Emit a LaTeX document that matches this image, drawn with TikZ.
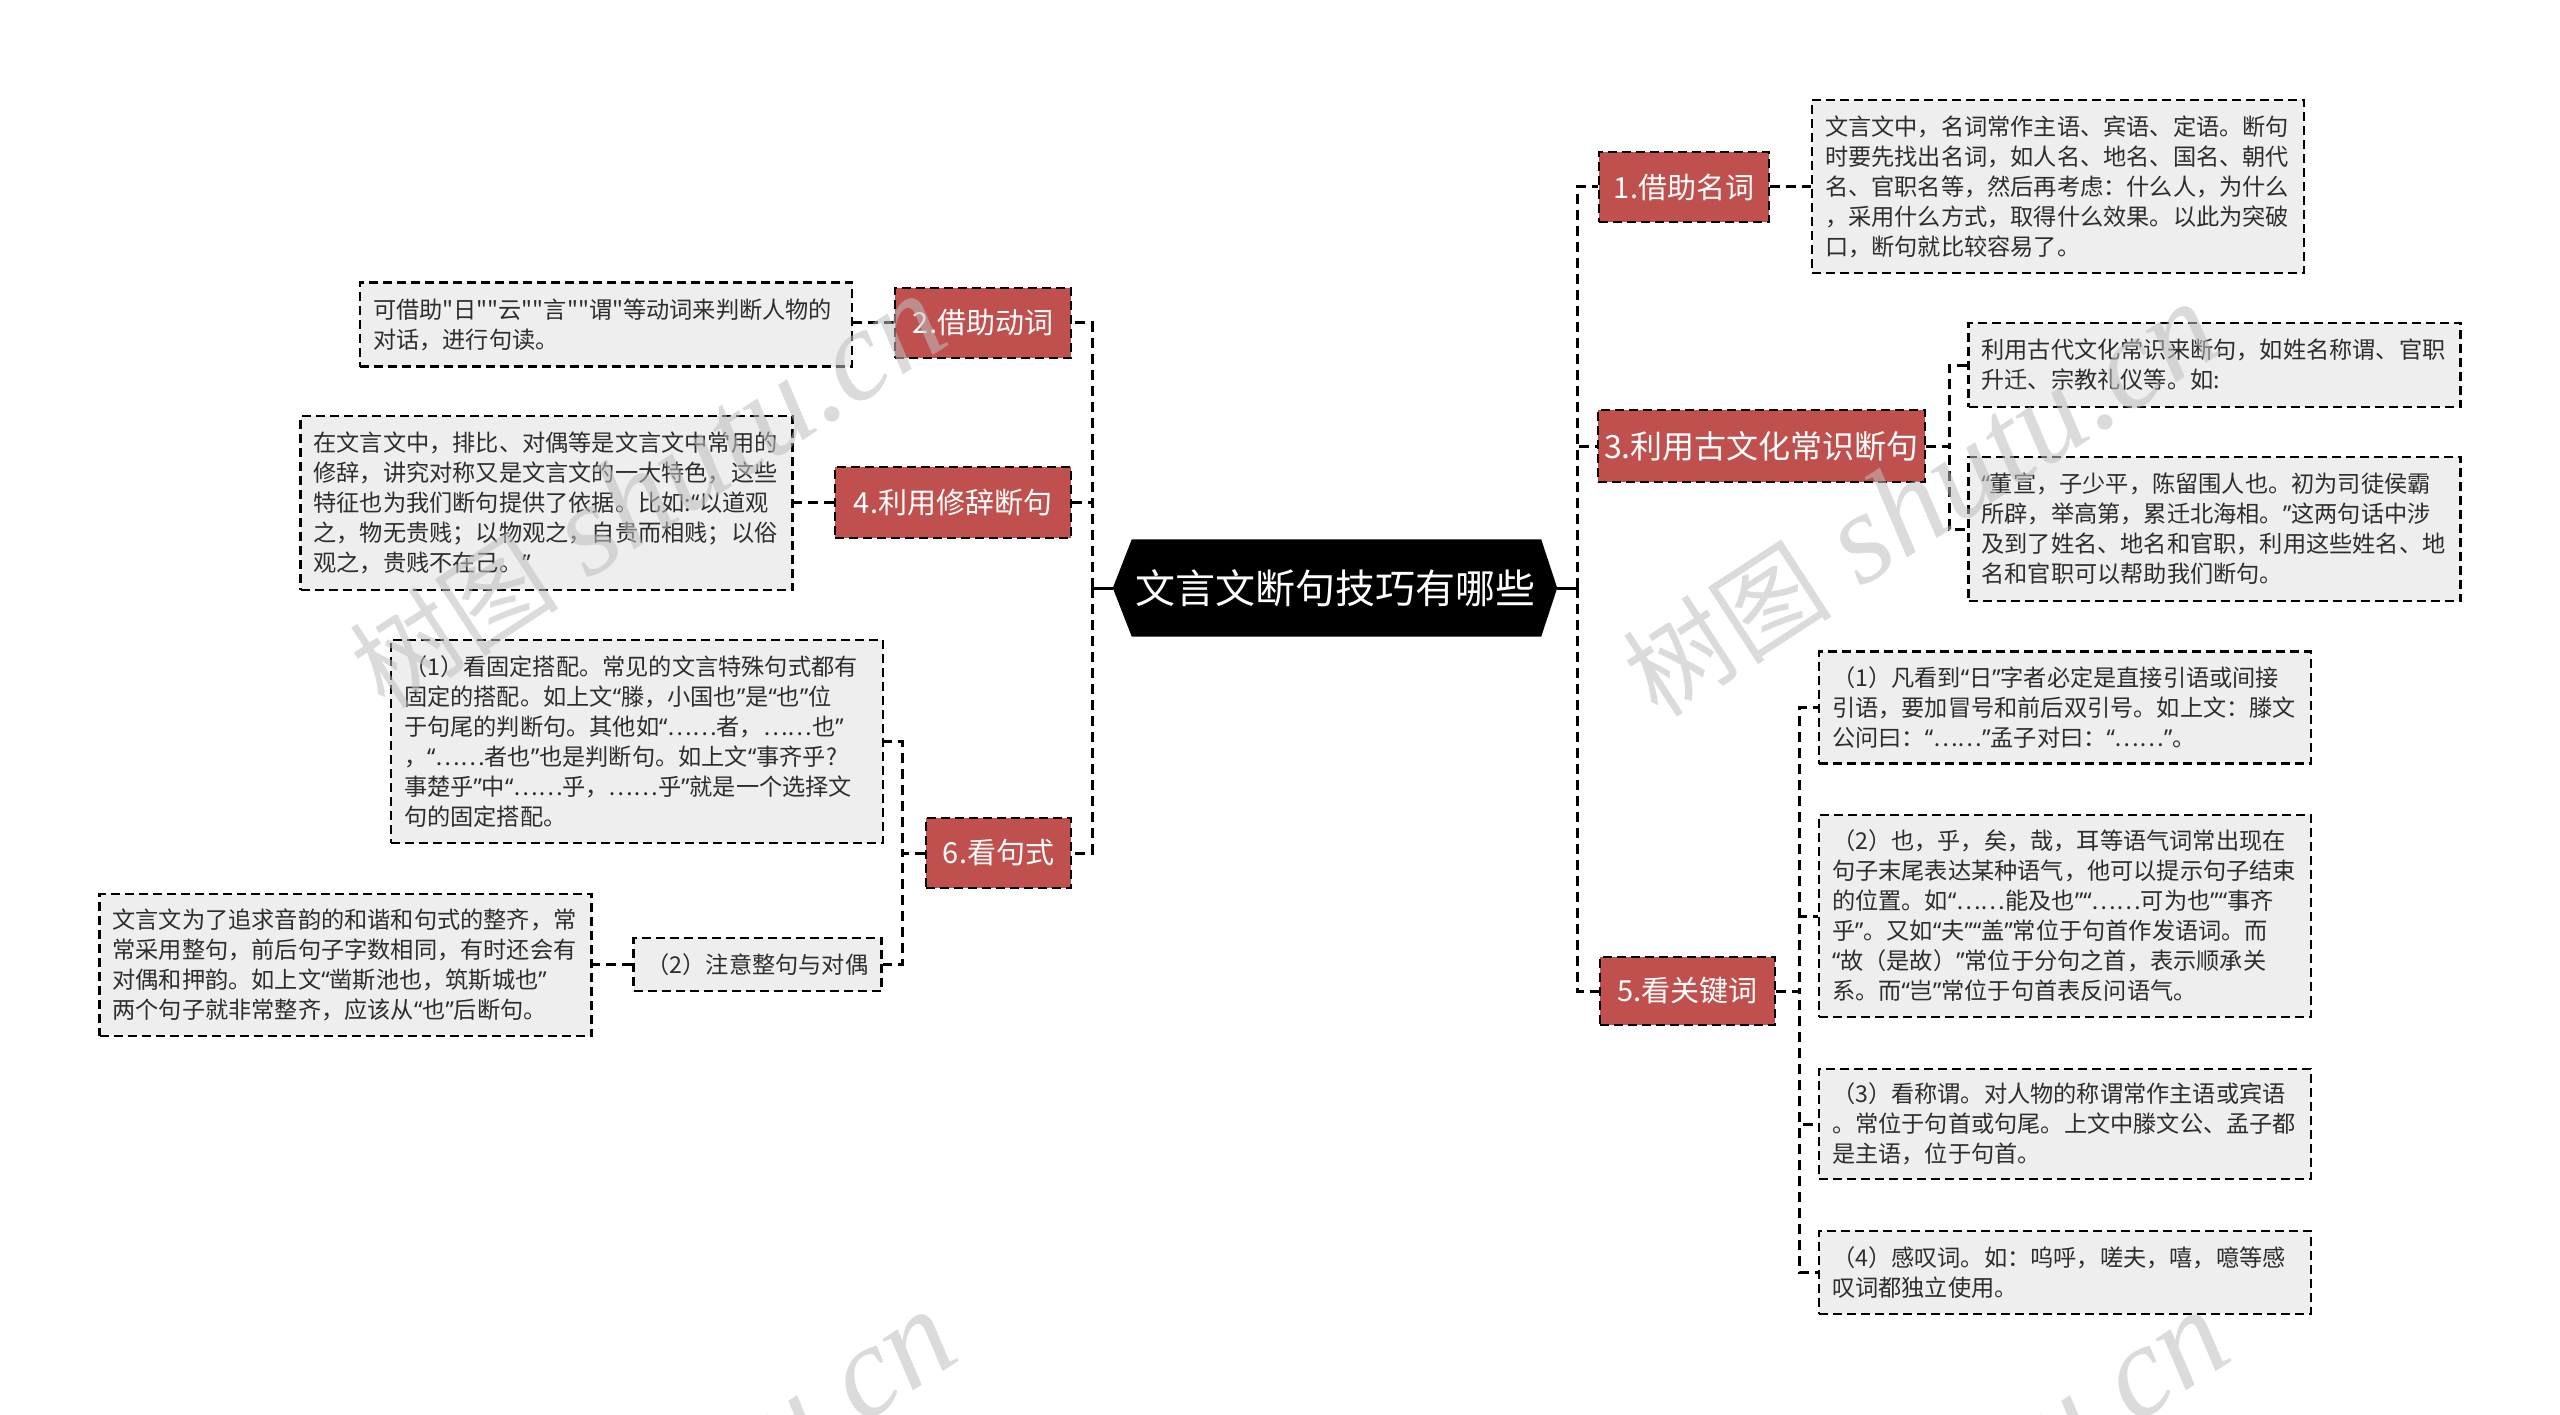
\documentclass[tikz,border=0pt]{standalone}
\usepackage{fontspec}
\newfontfamily\cjk{Noto Sans CJK SC}
\newfontfamily\qfont{Noto Sans}
\newfontfamily\wmserif{Liberation Serif}
\newcommand\myoq{{\qfont “}}
\newcommand\mycq{{\qfont ”}}
\definecolor{redbox}{RGB}{192,80,77}
\definecolor{graybox}{RGB}{238,238,238}
\definecolor{txtgray}{RGB}{45,45,45}
\definecolor{wmgray}{RGB}{190,190,190}
\pgfdeclarelayer{bg}
\pgfsetlayers{bg,main}
\begin{document}
\begin{tikzpicture}[x=1pt,y=-1pt,
  conn/.style={line width=3pt, dash pattern=on 10pt off 6pt, black},
  trunkstub/.style={line width=3pt, black},
  topic/.style={draw=black, fill=redbox, text=white, line width=2.2pt,
    dash pattern=on 9pt off 5pt, inner sep=0pt,
    font=\cjk\fontsize{29}{34}\selectfont},
  detail/.style={draw=black, fill=graybox, text=txtgray, line width=2.2pt,
    dash pattern=on 9pt off 5pt, inner xsep=13pt, inner ysep=0pt,
    align=left, text width=466pt,
    font=\cjk\fontsize{23.2}{30}\selectfont},
  wm/.style={text=wmgray, opacity=0.55, inner sep=0pt, anchor=base west, rotate=33,
    font=\fontsize{105}{110}\selectfont}
]
\useasboundingbox (0,0) rectangle (2560,1415);

% central topic
\node[text=white, inner sep=0pt, minimum width=444pt, minimum height=97pt,
  font=\cjk\fontsize{40}{48}\selectfont] (root) at (1335,588) {文言文断句技巧有哪些};
\begin{pgfonlayer}{bg}
\fill[white] (0,0) rectangle (2560,1415);
\fill[black] (root.west) -- ([xshift=19pt]root.north west) -- ([xshift=-16pt]root.north east)
  -- (root.east) -- ([xshift=-16pt]root.south east) -- ([xshift=19pt]root.south west) -- cycle;
\end{pgfonlayer}

% right topics
\node[topic, minimum width=170pt, minimum height=70pt] (n1) at (1684,187) {1.借助名词};
\node[topic, minimum width=327pt, minimum height=72pt, font=\cjk\fontsize{32}{37}\selectfont] (n3) at (1761.5,446) {3.利用古文化常识断句};
\node[topic, minimum width=175pt, minimum height=68pt] (n5) at (1687.5,991) {5.看关键词};

% left topics
\node[topic, minimum width=176pt, minimum height=70pt] (n2) at (983,323) {2.借助动词};
\node[topic, minimum width=236pt, minimum height=71pt] (n4) at (953,502.5) {4.利用修辞断句};
\node[topic, minimum width=145pt, minimum height=70pt] (n6) at (998.5,853) {6.看句式};

% right details
\node[detail, minimum height=173pt] (b1) at (2058,186.5) {文言文中，名词常作主语、宾语、定语。断句\\时要先找出名词，如人名、地名、国名、朝代\\名、官职名等，然后再考虑：什么人，为什么\\，采用什么方式，取得什么效果。以此为突破\\口，断句就比较容易了。};
\node[detail, minimum height=84pt] (b3a) at (2214.5,365) {利用古代文化常识来断句，如姓名称谓、官职\\升迁、宗教礼仪等。如:};
\node[detail, minimum height=144pt] (b3b) at (2214.5,529) {\myoq{}董宣，子少平，陈留围人也。初为司徒侯霸\\所辟，举高第，累迁北海相。\mycq{}这两句话中涉\\及到了姓名、地名和官职，利用这些姓名、地\\名和官职可以帮助我们断句。};
\node[detail, minimum height=112pt] (b51) at (2065,707.5) {（1）凡看到\myoq{}日\mycq{}字者必定是直接引语或间接\\引语，要加冒号和前后双引号。如上文：滕文\\公问曰：\myoq{}……\mycq{}孟子对曰：\myoq{}……\mycq{}。};
\node[detail, minimum height=202pt] (b52) at (2065,916) {（2）也，乎，矣，哉，耳等语气词常出现在\\句子末尾表达某种语气，他可以提示句子结束\\的位置。如\myoq{}……能及也\mycq{}\myoq{}……可为也\mycq{}\myoq{}事齐\\乎\mycq{}。又如\myoq{}夫\mycq{}\myoq{}盖\mycq{}常位于句首作发语词。而\\\myoq{}故（是故）\mycq{}常位于分句之首，表示顺承关\\系。而\myoq{}岂\mycq{}常位于句首表反问语气。};
\node[detail, minimum height=110pt] (b53) at (2065,1124) {（3）看称谓。对人物的称谓常作主语或宾语\\。常位于句首或句尾。上文中滕文公、孟子都\\是主语，位于句首。};
\node[detail, minimum height=83pt] (b54) at (2065,1272.5) {（4）感叹词。如：呜呼，嗟夫，嘻，噫等感\\叹词都独立使用。};

% left details
\node[detail, minimum height=84pt] (b2) at (606,324.5) {可借助"日""云""言""谓"等动词来判断人物的\\对话，进行句读。};
\node[detail, minimum height=174pt] (b4) at (546.5,503) {在文言文中，排比、对偶等是文言文中常用的\\修辞，讲究对称又是文言文的一大特色，这些\\特征也为我们断句提供了依据。比如:\myoq{}以道观\\之，物无贵贱；以物观之，自贵而相贱；以俗\\观之，贵贱不在己。\mycq{}};
\node[detail, minimum height=203pt] (b61) at (637,741.5) {（1）看固定搭配。常见的文言特殊句式都有\\固定的搭配。如上文\myoq{}滕，小国也\mycq{}是\myoq{}也\mycq{}位\\于句尾的判断句。其他如\myoq{}……者，……也\mycq{}\\，\myoq{}……者也\mycq{}也是判断句。如上文\myoq{}事齐乎?\\事楚乎\mycq{}中\myoq{}……乎，……乎\mycq{}就是一个选择文\\句的固定搭配。};
\node[detail, text width=, inner xsep=0pt, minimum width=248pt, minimum height=53pt] (b62) at (757.5,964.5) {（2）注意整句与对偶};
\node[detail, minimum height=142pt] (b62d) at (345.5,965) {文言文为了追求音韵的和谐和句式的整齐，常\\常采用整句，前后句子字数相同，有时还会有\\对偶和押韵。如上文\myoq{}凿斯池也，筑斯城也\mycq{}\\两个句子就非常整齐，应该从\myoq{}也\mycq{}后断句。};

% trunks
\coordinate (lt) at (1092,588);
\coordinate (rt) at (1577,588);
\draw[trunkstub] (root.west) -- (lt);
\draw[trunkstub] (root.east) -- (rt);
\draw[conn] (rt) |- (n1.west);
\draw[conn] (rt) |- (n3.west);
\draw[conn] (rt) |- (n5.west);
\draw[conn] (lt) |- (n2.east);
\draw[conn] (lt) |- (n4.east);
\draw[conn] (lt) |- (n6.east);

% topic to details
\draw[conn] (n1.east) -- (n1.east -| b1.west);
\draw[conn] (n2.west) -- (n2.west -| b2.east);
\draw[conn] (n4.west) -- (n4.west -| b4.east);
\coordinate (s3) at ([xshift=23pt]n3.east);
\draw[conn] (n3.east) -- (s3) |- (b3a.west);
\draw[conn] (n3.east) -- (s3) |- (b3b.west);
\coordinate (s5) at ([xshift=23pt]n5.east);
\draw[conn] (n5.east) -- (s5) |- (b51.west);
\draw[conn] (n5.east) -- (s5) |- (b52.west);
\draw[conn] (n5.east) -- (s5) |- (b53.west);
\draw[conn] (n5.east) -- (s5) |- (b54.west);
\coordinate (s6) at ([xshift=-22pt]n6.west);
\draw[conn] (n6.west) -- (s6) |- (b61.east);
\draw[conn] (n6.west) -- (s6) |- (b62.east);
\draw[conn] (b62.west) -- (b62.west -| b62d.east);

% watermarks
\begin{scope}
\clip (0,0) rectangle (2560,1415);
\node[wm] (wm1) at (385,712) {{\cjk 树图} {\wmserif\itshape\fontsize{130}{136}\selectfont shutu.cn}};
\node[wm] (wm2) at (1658,720) {{\cjk 树图} {\wmserif\itshape\fontsize{130}{136}\selectfont shutu.cn}};
\node[wm] (wm3) at (395,1728) {{\cjk 树图} {\wmserif\itshape\fontsize{130}{136}\selectfont shutu.cn}};
\node[wm] (wm4) at (1668,1728) {{\cjk 树图} {\wmserif\itshape\fontsize{130}{136}\selectfont shutu.cn}};
\end{scope}
\end{tikzpicture}
\end{document}
